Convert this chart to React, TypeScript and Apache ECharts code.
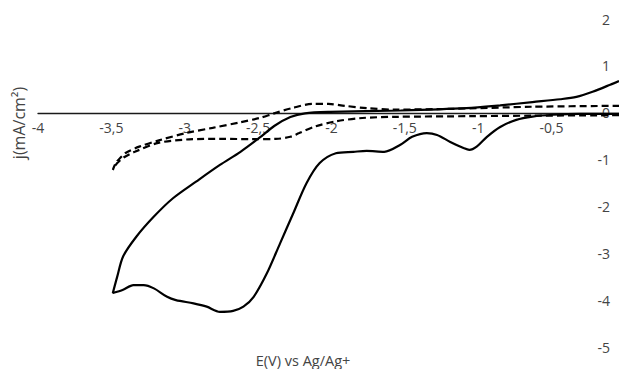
import React, { useEffect, useRef } from "react";
import * as echarts from "echarts";

// x tick labels use a decimal comma
const xTicks = [-4, -3.5, -3, -2.5, -2, -1.5, -1, -0.5];
const yTicks = [2, 1, 0, -1, -2, -3, -4, -5];
const xVisibleMax = -0.04; // the figure is cropped just before E = 0

// Solid CV: cathodic branch (right -> left), then return branch (left -> right)
const solidE = [
  -0.04, -0.31, -0.49, -0.63, -0.74, -0.85, -0.94, -1.01, -1.06, -1.1, -1.19, -1.28, -1.35, -1.45, -1.53, -1.64,
  -1.76, -1.85, -1.97, -2.08, -2.17, -2.26, -2.35, -2.44, -2.53, -2.6, -2.67, -2.76, -2.85, -2.94, -3.06, -3.12,
  -3.21, -3.28, -3.35, -3.42, -3.49,
  -3.46, -3.42, -3.33, -3.21, -3.08, -2.92, -2.76, -2.62, -2.49, -2.39, -2.28, -2.18, -2.01, -1.53, -1.08, -0.85,
  -0.63, -0.44, -0.33, -0.22, -0.1, -0.04,
];
const solidJ = [
  -0.02, -0.02, -0.04, -0.08, -0.15, -0.3, -0.51, -0.72, -0.79, -0.75, -0.62, -0.47, -0.43, -0.51, -0.68, -0.83,
  -0.81, -0.83, -0.86, -1.07, -1.5, -2.14, -2.78, -3.42, -3.92, -4.13, -4.22, -4.24, -4.13, -4.06, -3.99, -3.92,
  -3.74, -3.67, -3.67, -3.77, -3.84,
  -3.49, -3.06, -2.64, -2.21, -1.82, -1.46, -1.11, -0.83, -0.53, -0.28, -0.09, -0.01, 0.02, 0.05, 0.1, 0.16,
  0.23, 0.29, 0.34, 0.45, 0.6, 0.68,
];

// Dashed CV: lower branch (right -> left), then upper branch (left -> right)
const dashedE = [
  -0.04, -0.63, -1.03, -1.57, -1.79, -1.97, -2.11, -2.22, -2.28, -2.38, -2.54, -2.75, -2.97, -3.18, -3.34, -3.41,
  -3.46, -3.49,
  -3.47, -3.44, -3.4, -3.31, -3.17, -2.99, -2.81, -2.62, -2.49, -2.39, -2.27, -2.13, -2.02, -1.91, -1.76, -1.57,
  -1.19, -0.63, -0.04,
];
const dashedJ = [
  -0.05, -0.06, -0.07, -0.085, -0.11, -0.18, -0.29, -0.43, -0.51, -0.555, -0.56, -0.555, -0.565, -0.64, -0.83, -0.94,
  -1.07, -1.215,
  -1.07, -0.96, -0.85, -0.72, -0.58, -0.43, -0.32, -0.2, -0.11, -0.01, 0.1, 0.19, 0.19, 0.15, 0.1, 0.07,
  0.085, 0.13, 0.15,
];

const pairs = (xs: number[], ys: number[]) => xs.map((x, i) => [x, ys[i]]);

export default function App() {
  const ref = useRef<HTMLDivElement>(null);
  useEffect(() => {
    if (!ref.current) return;
    const chart = echarts.init(ref.current, null, { renderer: "svg" });
    const font = "'Open Sans', 'Liberation Sans', sans-serif";
    const gridTop = 19;
    const gridBottom = 21.5;
    const H = 369;
    const yMin = yTicks[yTicks.length - 1];
    const yMax = yTicks[0];
    const plotH = H - gridTop - gridBottom;
    // distance from the grid bottom up to j = 0
    const zeroOffset = (plotH * (0 - yMin)) / (yMax - yMin);
    chart.setOption({
      animation: false,
      backgroundColor: "#ffffff",
      grid: { left: 38, right: 0, top: gridTop, bottom: gridBottom, outerBoundsMode: "none", containLabel: false },
      xAxis: {
        type: "value",
        min: xTicks[0],
        max: xVisibleMax,
        interval: 0.5,
        offset: -zeroOffset,
        axisLine: { show: true, onZero: false, lineStyle: { color: "#1a1a1a", width: 1.3 } },
        axisTick: { show: false },
        splitLine: { show: false },
        axisLabel: {
          margin: 8,
          fontSize: 14,
          fontFamily: font,
          color: "#444",
          showMaxLabel: false,
          formatter: (v: number) => (xTicks.includes(v) ? String(v).replace(".", ",") : ""),
        },
      },
      yAxis: {
        type: "value",
        position: "right",
        min: yMin,
        max: yMax,
        interval: 1,
        axisLine: { show: false, onZero: false },
        axisTick: { show: false },
        splitLine: { show: false },
        axisLabel: {
          inside: true,
          margin: 9,
          fontSize: 14,
          fontFamily: font,
          color: "#444",
        },
      },
      series: [
        {
          type: "line",
          data: pairs(solidE, solidJ),
          showSymbol: false,
          smooth: 0.3,
          lineStyle: { color: "#000", width: 2.2 },
        },
        {
          type: "line",
          data: pairs(dashedE, dashedJ),
          showSymbol: false,
          smooth: 0.3,
          lineStyle: { color: "#000", width: 2.2, type: [7, 4] },
        },
      ],
      graphic: [
        {
          type: "text",
          x: 303,
          y: 360,
          style: {
            text: "E(V) vs Ag/Ag+",
            fontSize: 14.5,
            fontFamily: font,
            fill: "#444",
            textAlign: "center",
            textVerticalAlign: "middle",
          },
        },
        {
          type: "text",
          x: 19,
          y: 123,
          rotation: Math.PI / 2,
          style: {
            text: "j(mA/cm²)",
            fontSize: 16,
            fontFamily: font,
            fill: "#444",
            textAlign: "center",
            textVerticalAlign: "middle",
          },
        },
      ],
    });
    return () => chart.dispose();
  }, []);
  return (
    <div
      ref={ref}
      style={{ position: "fixed", left: 0, top: 0, width: 619, height: 369 }}
    />
  );
}
